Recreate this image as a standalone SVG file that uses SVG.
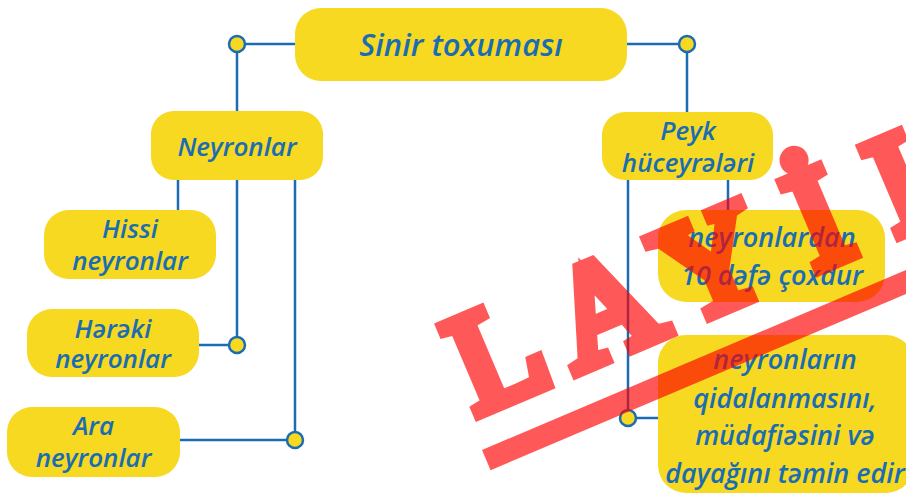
<svg xmlns="http://www.w3.org/2000/svg" width="906" height="495" viewBox="0 0 906 495">
<style>
.box{fill:#f6d920}
.t{font-family:"Open Sans","Noto Sans",sans-serif;font-style:italic;font-weight:600;fill:#1b6db3;text-anchor:middle}
.ln{stroke:#1b6db3;stroke-width:2.5;fill:none}
.dot{fill:#f6d920;stroke:#1b6db3;stroke-width:2.5}
.wm{fill:#ff0000;stroke:#ff0000;opacity:0.65}
.wmt{font-family:"Liberation Serif",serif;font-weight:400;font-size:142px;text-anchor:middle;stroke-width:14;stroke-linejoin:miter}
</style>
<rect width="906" height="495" fill="#ffffff"/>
<g id="connectors">
<path class="ln" d="M245 44H295M237 52V111M627 44H679M687 52V112"/>
<path class="ln" d="M178 180V210M237 180V337M199 345H229M295 180V432M180 440H287"/>
<path class="ln" d="M728 180V210M628 180V410M636 418H658"/>
<circle class="dot" cx="237" cy="44" r="8"/>
<circle class="dot" cx="687" cy="44" r="8"/>
<circle class="dot" cx="237" cy="345" r="8"/>
<circle class="dot" cx="295" cy="440" r="8"/>
<circle class="dot" cx="628" cy="418" r="8"/>
</g>
<g id="n-sinir">
<rect class="box" x="295" y="8" width="332" height="73" rx="26"/>
<text class="t" x="461" y="56" font-size="31">Sinir toxuması</text>
</g>
<g id="n-neyronlar">
<rect class="box" x="151" y="111" width="172" height="69" rx="23"/>
<text class="t" x="237" y="156" font-size="26">Neyronlar</text>
</g>
<g id="n-hissi">
<rect class="box" x="44" y="210" width="172" height="69" rx="25"/>
<text class="t" x="130" y="238" font-size="26">Hissi</text>
<text class="t" x="130" y="270" font-size="26">neyronlar</text>
</g>
<g id="n-hereki">
<rect class="box" x="27" y="309" width="172" height="68" rx="25"/>
<text class="t" x="113" y="338" font-size="26">Hərəki</text>
<text class="t" x="113" y="368" font-size="26">neyronlar</text>
</g>
<g id="n-ara">
<rect class="box" x="7" y="407" width="173" height="70" rx="25"/>
<text class="t" x="93.5" y="435" font-size="26">Ara</text>
<text class="t" x="93.5" y="467" font-size="26">neyronlar</text>
</g>
<g id="n-peyk">
<rect class="box" x="602" y="112" width="171" height="68" rx="23"/>
<text class="t" x="688" y="140" font-size="26">Peyk</text>
<text class="t" x="688" y="172" font-size="26">hüceyrələri</text>
</g>
<g id="n-coxdur">
<rect class="box" x="658" y="210" width="227" height="92" rx="28"/>
<text class="t" x="772" y="247" font-size="27">neyronlardan</text>
<text class="t" x="772" y="285" font-size="27">10 dəfə çoxdur</text>
</g>
<g id="n-temin">
<rect class="box" x="658" y="335" width="256" height="158" rx="28"/>
<text class="t" x="785" y="369" font-size="27">neyronların</text>
<text class="t" x="785" y="408" font-size="27">qidalanmasını,</text>
<text class="t" x="785" y="445" font-size="27">müdafiəsini və</text>
<text class="t" x="785" y="483" font-size="27">dayağını təmin edir</text>
</g>
<g id="watermark" class="wm">
<text class="wmt" transform="translate(465,419) rotate(-23)" x="55 172 288 404 520 636" y="0">LAYİHƏ</text>
<rect transform="translate(482,450) rotate(-23)" x="0" y="0" width="520" height="22" stroke="none"/>
</g>
</svg>
